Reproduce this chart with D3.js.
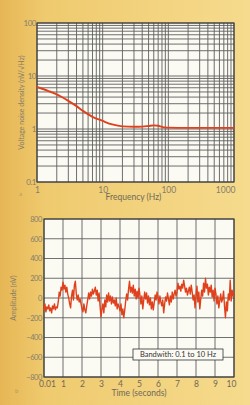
<!DOCTYPE html>
<html>
<head>
<meta charset="utf-8">
<script src="https://cdn.jsdelivr.net/npm/d3@7"></script>
<style>
  html, body { margin: 0; padding: 0; }
  svg { display: block; }
  text { font-family: Lato, 'Open Sans', sans-serif; }
</style>
</head>
<body>
<svg id="chart" width="250" height="405"></svg>
<script>
// --- data: noise density (top) ---
const freqHz = [1, 1.5, 2, 3, 4, 5, 7, 10, 14, 20, 30, 40, 50, 60, 70, 80, 90, 100, 200, 500, 1000];
const densityNv = [6.2, 5.2, 4.5, 3.4, 2.7, 2.2, 1.7, 1.42, 1.22, 1.12, 1.1, 1.11, 1.14, 1.17, 1.15, 1.1, 1.07, 1.06, 1.05, 1.05, 1.05];
const freqTicks = [1, 10, 100, 1000];
const densityTicks = [0.1, 1, 10, 100];

// --- data: time domain noise (bottom), one value every 0.05 s ---
const noiseNv = [
  -120, -60, -140, -90, -110, -70, -130, -100, -150, -80, -110, -60, -120, -90, -100, -40, 60, 20, 110, 80,
  160, 90, 130, 60, 110, 40, 0, -60, -100, 20, 80, -20, 130, 170, 40, -20, 30, -40, -10, -60,
  -110, -140, -60, -120, -150, -80, -20, 50, -10, 60, 20, 90, 40, 70, 110, 30, 80, -30, 50, -80,
  -190, -110, -60, -150, -20, -90, 30, -40, 50, -30, 20, -60, 10, -50, -20, -80, 0, -110, -60, -90,
  -130, -60, -170, -110, -200, -120, -30, 40, -20, 90, 170, 60, 110, 50, 130, 20, 90, -10, 70, 0,
  100, 30, -60, 20, -110, -20, 60, -10, 50, -50, 20, -70, 0, -110, -40, -120, -50, 30, -20, 60,
  10, -60, 20, -40, -80, -20, -150, -60, 10, -30, 50, -10, -70, 20, -40, 60, -10, 40, 80, 20,
  60, 150, 90, 120, 70, 140, 100, 180, 120, 60, 100, 30, 70, 110, 40, 130, 60, -20, 30, -100,
  20, 120, -40, 60, -110, -10, 80, 20, 150, 60, 200, 100, 140, 30, 110, 60, 130, 10, 80, -30,
  100, 40, -60, 20, -100, -30, 40, -40, -10, 70, -80, -200, -40, -130, 40, -20, 180, -30, 80, 20,
  50
];
const timeStep = 0.05;
const timeTicks = [0, 1, 2, 3, 4, 5, 6, 7, 8, 9, 10];
const timeTickLabels = ['0.01', '1', '2', '3', '4', '5', '6', '7', '8', '9', '10'];
const ampTicks = [-800, -600, -400, -200, 0, 200, 400, 600, 800];

const svg = d3.select('#chart');
const lineColor = '#e0411d';
const gridColor = '#5f5f5f';
const labelColor = '#857d6a';

// paper background
const defs = svg.append('defs');
const bg = defs.append('linearGradient').attr('id', 'paper')
  .attr('x1', 0).attr('x2', 1).attr('y1', 0).attr('y2', 0);
bg.append('stop').attr('offset', '0%').attr('stop-color', '#e6b655');
bg.append('stop').attr('offset', '18%').attr('stop-color', '#efca6e');
bg.append('stop').attr('offset', '100%').attr('stop-color', '#f6db8e');
svg.append('rect').attr('width', 250).attr('height', 405).attr('fill', 'url(#paper)');

// ---------- top: log-log noise density ----------
const box1 = { left: 37, right: 234, top: 23, bottom: 182 };
const fx = d3.scaleLog().domain([1, 1000]).range([box1.left, box1.right]);
const fy = d3.scaleLog().domain([0.1, 100]).range([box1.bottom, box1.top]);

const g1 = svg.append('g');
g1.append('rect')
  .attr('x', box1.left).attr('y', box1.top)
  .attr('width', box1.right - box1.left).attr('height', box1.bottom - box1.top)
  .attr('fill', '#fbfaf3');

// minor + major grid from the scale's own ticks
g1.append('g').selectAll('line').data(fx.ticks()).join('line')
  .attr('x1', d => fx(d)).attr('x2', d => fx(d))
  .attr('y1', box1.top).attr('y2', box1.bottom)
  .attr('stroke', gridColor).attr('stroke-width', 0.9);
g1.append('g').selectAll('line').data(fy.ticks()).join('line')
  .attr('x1', box1.left).attr('x2', box1.right)
  .attr('y1', d => fy(d)).attr('y2', d => fy(d))
  .attr('stroke', gridColor).attr('stroke-width', 0.9);

g1.append('rect')
  .attr('x', box1.left).attr('y', box1.top)
  .attr('width', box1.right - box1.left).attr('height', box1.bottom - box1.top)
  .attr('fill', 'none').attr('stroke', '#3a3a3a').attr('stroke-width', 1.1);

const densityLine = d3.line()
  .x((d, i) => fx(freqHz[i]))
  .y(d => fy(d))
  .curve(d3.curveMonotoneX);
g1.append('path')
  .attr('d', densityLine(densityNv))
  .attr('fill', 'none').attr('stroke', lineColor).attr('stroke-width', 1.9);

// axes (labels only)
const fxAxis = g1.append('g').attr('transform', `translate(0,${box1.bottom})`)
  .call(d3.axisBottom(fx).tickValues(freqTicks).tickFormat(d3.format('d')).tickSize(0).tickPadding(5));
fxAxis.select('.domain').remove();
fxAxis.selectAll('text').attr('font-size', 8.5).attr('fill', labelColor)
  .attr('text-anchor', (d, i) => i === freqTicks.length - 1 ? 'end' : 'middle')
  .attr('dx', (d, i) => i === freqTicks.length - 1 ? 1 : 0);

const fyAxis = g1.append('g').attr('transform', `translate(${box1.left},0)`)
  .call(d3.axisLeft(fy).tickValues(densityTicks).tickFormat(d => String(d)).tickSize(0).tickPadding(1));
fyAxis.select('.domain').remove();
fyAxis.selectAll('text').attr('font-size', 8).attr('fill', labelColor).attr('letter-spacing', -0.5);

g1.append('text')
  .attr('x', (box1.left + box1.right) / 2 - 2).attr('y', 200)
  .attr('text-anchor', 'middle').attr('font-size', 8.5).attr('fill', '#6f6958')
  .text('Frequency (Hz)');
g1.append('text')
  .attr('transform', `translate(24,${(box1.top + box1.bottom) / 2}) rotate(-90)`)
  .attr('text-anchor', 'middle').attr('font-size', 7).attr('fill', labelColor)
  .text('Voltage noise density (nV/√Hz)');
g1.append('text')
  .attr('x', 19).attr('y', 196).attr('font-size', 6).attr('fill', '#b09a66')
  .text('a');

// ---------- bottom: time domain noise ----------
const box2 = { left: 44, right: 234, top: 219, bottom: 377 };
const tx = d3.scaleLinear().domain([0, 10]).range([box2.left, box2.right]);
const ty = d3.scaleLinear().domain([-800, 800]).range([box2.bottom, box2.top]);

const g2 = svg.append('g');
g2.append('rect')
  .attr('x', box2.left).attr('y', box2.top)
  .attr('width', box2.right - box2.left).attr('height', box2.bottom - box2.top)
  .attr('fill', '#fbfaf3');

g2.append('g').selectAll('line').data(timeTicks).join('line')
  .attr('x1', d => tx(d)).attr('x2', d => tx(d))
  .attr('y1', box2.top).attr('y2', box2.bottom)
  .attr('stroke', gridColor).attr('stroke-width', 0.9);
g2.append('g').selectAll('line').data(ampTicks).join('line')
  .attr('x1', box2.left).attr('x2', box2.right)
  .attr('y1', d => ty(d)).attr('y2', d => ty(d))
  .attr('stroke', gridColor).attr('stroke-width', 0.9);

g2.append('rect')
  .attr('x', box2.left).attr('y', box2.top)
  .attr('width', box2.right - box2.left).attr('height', box2.bottom - box2.top)
  .attr('fill', 'none').attr('stroke', '#3a3a3a').attr('stroke-width', 1.1);

const noiseLine = d3.line()
  .x((d, i) => tx(i * timeStep))
  .y(d => ty(d));
g2.append('path')
  .attr('d', noiseLine(noiseNv))
  .attr('fill', 'none').attr('stroke', lineColor).attr('stroke-width', 1.4)
  .attr('stroke-linejoin', 'round');

const txAxis = g2.append('g').attr('transform', `translate(0,${box2.bottom})`)
  .call(d3.axisBottom(tx).tickValues(timeTicks).tickFormat((d, i) => timeTickLabels[i]).tickSize(0).tickPadding(4));
txAxis.select('.domain').remove();
txAxis.selectAll('text').attr('font-size', 8.5).attr('fill', '#6f6958')
  .attr('dx', (d, i) => i === 0 ? 3 : (i === timeTicks.length - 1 ? -3 : 0));

const tyAxis = g2.append('g').attr('transform', `translate(${box2.left},0)`)
  .call(d3.axisLeft(ty).tickValues(ampTicks).tickSize(0).tickPadding(2)
    .tickFormat(d => d < 0 ? '\u2212' + Math.abs(d) : String(d)));
tyAxis.select('.domain').remove();
tyAxis.selectAll('text').attr('font-size', 7.5).attr('fill', labelColor).attr('letter-spacing', -0.4);

g2.append('text')
  .attr('x', 139).attr('y', 396)
  .attr('text-anchor', 'middle').attr('font-size', 8.5).attr('fill', '#6f6958')
  .text('Time (seconds)');
g2.append('text')
  .attr('transform', `translate(16,${(box2.top + box2.bottom) / 2}) rotate(-90)`)
  .attr('text-anchor', 'middle').attr('font-size', 7).attr('fill', labelColor)
  .text('Amplitude (nV)');
g2.append('text')
  .attr('x', 15).attr('y', 393).attr('font-size', 6).attr('fill', '#b09a66')
  .text('b');

// legend box
const note = g2.append('g').attr('transform', 'translate(133,349)');
note.append('rect').attr('width', 90).attr('height', 11)
  .attr('fill', '#fbfaf3').attr('stroke', '#333').attr('stroke-width', 0.8);
note.append('text').attr('x', 45).attr('y', 8.3)
  .attr('text-anchor', 'middle').attr('font-size', 7.5).attr('fill', '#333')
  .text('Bandwith: 0.1 to 10 Hz');
</script>
</body>
</html>
